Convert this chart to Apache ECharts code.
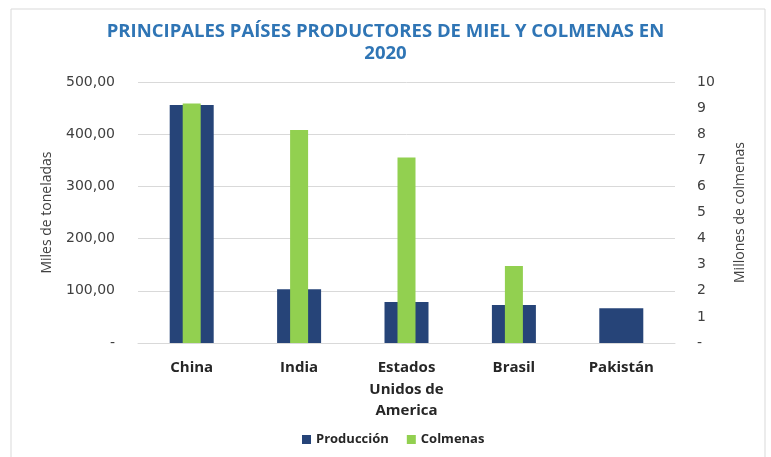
<!DOCTYPE html>
<html>
<head>
<meta charset="utf-8">
<script src="https://cdn.jsdelivr.net/npm/echarts@6/dist/echarts.min.js"></script>
<style>
  html, body { margin: 0; padding: 0; background: #fff; }
  #chart { width: 771px; height: 457px; }
</style>
</head>
<body>
<div id="chart"></div>
<script>
// datos
const paises = ['China', 'India', 'Estados\nUnidos de\nAmerica', 'Brasil', 'Pakistán']
const produccion = [456, 103, 78.5, 73, 66.5]   // miles de toneladas
const colmenas = [9.18, 8.16, 7.11, 2.95, null] // millones de colmenas

const chart = echarts.init(document.getElementById('chart'))

const fmtMiles = v => v === 0 ? '-' : v.toFixed(2).replace('.', ',')
const fmtColm = v => v === 0 ? '-' : String(v)

chart.setOption({
  animation: false,
  backgroundColor: '#fff',
  title: {
    text: 'PRINCIPALES PAÍSES PRODUCTORES DE MIEL Y COLMENAS EN\n2020',
    left: 'center',
    top: 16,
    textStyle: {
      fontFamily: 'Open Sans',
      fontSize: 18.5,
      fontWeight: 'bold',
      color: '#2F75B5',
      lineHeight: 22
    }
  },
  graphic: [{
    type: 'rect',
    shape: { x: 11, y: 9, width: 754, height: 460 },
    style: { fill: 'none', stroke: '#d9d9d9', lineWidth: 1 },
    silent: true
  }],
  legend: {
    bottom: 6,
    left: 297,
    itemWidth: 9,
    itemHeight: 9,
    itemGap: 18,
    icon: 'rect',
    textStyle: { fontFamily: 'Open Sans', fontSize: 13, fontWeight: 'bold', color: '#262626' },
    data: ['Producción', 'Colmenas']
  },
  grid: { left: 138, right: 96, top: 82, bottom: 114 },
  xAxis: [
    {
      type: 'category',
      data: paises,
      axisLine: { lineStyle: { color: '#d9d9d9' } },
      axisTick: { show: false },
      axisLabel: {
        interval: 0,
        margin: 14,
        fontFamily: 'Open Sans',
        fontSize: 15,
        fontWeight: 'bold',
        color: '#262626',
        lineHeight: 21.5
      }
    },
    { type: 'category', data: paises, show: false }
  ],
  yAxis: [
    {
      type: 'value',
      min: 0,
      max: 500,
      interval: 100,
      name: 'Miles de toneladas',
      nameLocation: 'middle',
      nameGap: 84,
      nameTextStyle: { fontFamily: 'Open Sans', fontSize: 14, color: '#404040' },
      axisLine: { show: false },
      axisTick: { show: false },
      splitLine: { lineStyle: { color: '#d9d9d9' } },
      axisLabel: { margin: 23, fontFamily: 'DejaVu Sans', fontSize: 14, color: '#404040', formatter: fmtMiles }
    },
    {
      type: 'value',
      min: 0,
      max: 10,
      interval: 1,
      name: 'Millones de colmenas',
      nameLocation: 'middle',
      nameGap: 58,
      nameTextStyle: { fontFamily: 'Open Sans', fontSize: 14, color: '#404040' },
      axisLine: { show: false },
      axisTick: { show: false },
      splitLine: { show: false },
      axisLabel: { margin: 22, fontFamily: 'DejaVu Sans', fontSize: 14, color: '#404040', formatter: fmtColm }
    }
  ],
  series: [
    {
      name: 'Producción',
      type: 'bar',
      xAxisIndex: 0,
      yAxisIndex: 0,
      barWidth: 44,
      itemStyle: { color: '#264478' },
      data: produccion
    },
    {
      name: 'Colmenas',
      type: 'bar',
      xAxisIndex: 1,
      yAxisIndex: 1,
      barWidth: 18,
      itemStyle: { color: '#92D050' },
      data: colmenas
    }
  ]
})
</script>
</body>
</html>
